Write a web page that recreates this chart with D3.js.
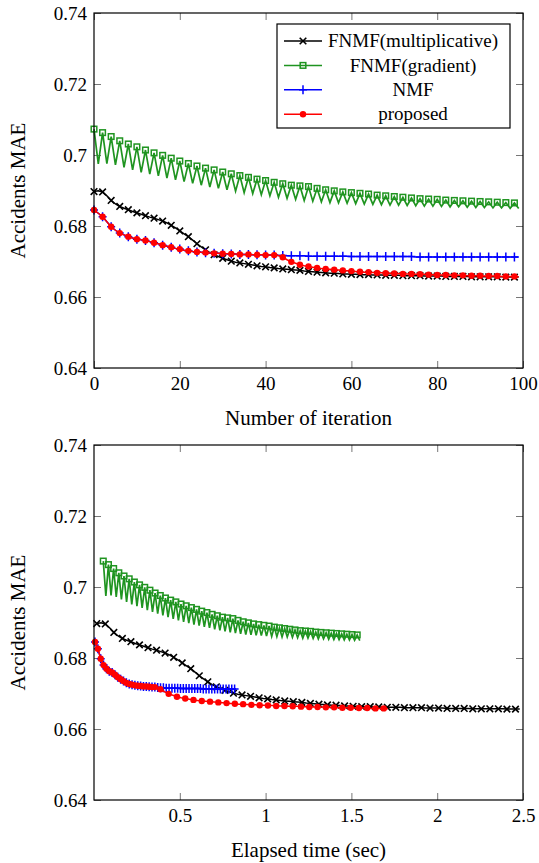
<!DOCTYPE html>
<html>
<head>
<meta charset="utf-8">
<script src="https://cdn.jsdelivr.net/npm/d3@7"></script>
<style>
  body { margin: 0; background: #fff; }
  text { font-family: "Liberation Serif", "Times New Roman", serif; fill: #000; }
</style>
</head>
<body>
<svg id="chart" width="539" height="863"></svg>
<script>
// ---- data ----
var iterations = d3.range(100); // iteration number 0..99

var multMAE = [
  0.6897, 0.6899, 0.6896, 0.6885, 0.6872, 0.6862, 0.6855, 0.6850, 0.6846, 0.6841,
  0.6837, 0.6833, 0.6829, 0.6825, 0.6822, 0.6818, 0.6814, 0.6809, 0.6802, 0.6795,
  0.6786, 0.6778, 0.6770, 0.6760, 0.6750, 0.6741, 0.6733, 0.6725, 0.6719, 0.6714,
  0.6709, 0.6705, 0.6701, 0.6698, 0.6696, 0.6694, 0.6692, 0.6690, 0.6688, 0.6686,
  0.6685, 0.6683, 0.6682, 0.6680, 0.6679, 0.6678, 0.6677, 0.6676, 0.6675, 0.6673,
  0.6672, 0.6671, 0.6670, 0.6669, 0.6668, 0.6667, 0.6667, 0.6666, 0.6665, 0.6665,
  0.6664, 0.6664, 0.6663, 0.6663, 0.6663, 0.6662, 0.6662, 0.6662, 0.6661, 0.6661,
  0.6661, 0.6661, 0.6660, 0.6660, 0.6660, 0.6660, 0.6660, 0.6659, 0.6659, 0.6659,
  0.6659, 0.6659, 0.6658, 0.6658, 0.6658, 0.6658, 0.6658, 0.6658, 0.6657, 0.6657,
  0.6657, 0.6657, 0.6657, 0.6657, 0.6657, 0.6657, 0.6656, 0.6656, 0.6656, 0.6656
];

// FNMF(gradient) zig-zags: even iterations are the peaks, odd ones the troughs
var gradPeaks = [
  0.7073, 0.7063, 0.7052, 0.7040, 0.7031, 0.7023, 0.7014, 0.7006, 0.6999, 0.6991,
  0.6983, 0.6976, 0.6969, 0.6963, 0.6958, 0.6952, 0.6947, 0.6942, 0.6937, 0.6932,
  0.6928, 0.6923, 0.6919, 0.6915, 0.6913, 0.6911, 0.6906, 0.6902, 0.6899, 0.6896,
  0.6894, 0.6892, 0.6890, 0.6887, 0.6885, 0.6883, 0.6881, 0.6879, 0.6877, 0.6876,
  0.6875, 0.6873, 0.6872, 0.6871, 0.6870, 0.6869, 0.6868, 0.6867, 0.6866, 0.6865
];
var gradTroughs = [
  0.6975, 0.6976, 0.6972, 0.6965, 0.6958, 0.6951, 0.6946, 0.6941, 0.6935, 0.6930,
  0.6925, 0.6920, 0.6915, 0.6910, 0.6906, 0.6902, 0.6898, 0.6894, 0.6891, 0.6888,
  0.6885, 0.6881, 0.6878, 0.6875, 0.6872, 0.6870, 0.6868, 0.6866, 0.6865, 0.6864,
  0.6863, 0.6862, 0.6861, 0.6860, 0.6859, 0.6859, 0.6858, 0.6857, 0.6856, 0.6856,
  0.6855, 0.6854, 0.6854, 0.6853, 0.6852, 0.6852, 0.6851, 0.6851, 0.6850, 0.6849
];

var nmfMAE = [
  0.6845, 0.6836, 0.6826, 0.6812, 0.6798, 0.6788, 0.6780, 0.6775, 0.6770, 0.6766,
  0.6763, 0.6761, 0.6759, 0.6756, 0.6753, 0.6750, 0.6746, 0.6743, 0.6740, 0.6737,
  0.6735, 0.6732, 0.6730, 0.6728, 0.6727, 0.6726, 0.6725, 0.6724, 0.6723, 0.6723,
  0.6722, 0.6722, 0.6721, 0.6721, 0.6720, 0.6720, 0.6720, 0.6719, 0.6719, 0.6719,
  0.6718, 0.6718, 0.6718, 0.6717, 0.6717, 0.6716, 0.6716, 0.6716, 0.6716, 0.6716,
  0.6715, 0.6715, 0.6715, 0.6715, 0.6715, 0.6715, 0.6715, 0.6715, 0.6715, 0.6715,
  0.6714, 0.6714, 0.6714, 0.6714, 0.6714, 0.6714, 0.6714, 0.6714, 0.6714, 0.6714,
  0.6714, 0.6714, 0.6714, 0.6714, 0.6714, 0.6713, 0.6713, 0.6713, 0.6713, 0.6713,
  0.6713, 0.6713, 0.6713, 0.6713, 0.6713, 0.6713, 0.6713, 0.6713, 0.6713, 0.6713,
  0.6713, 0.6713, 0.6713, 0.6713, 0.6713, 0.6713, 0.6713, 0.6713, 0.6713, 0.6713
];

var proposedMAE = [
  0.6845, 0.6836, 0.6826, 0.6812, 0.6798, 0.6788, 0.6780, 0.6775, 0.6770, 0.6766,
  0.6763, 0.6761, 0.6759, 0.6756, 0.6753, 0.6750, 0.6746, 0.6743, 0.6740, 0.6737,
  0.6735, 0.6732, 0.6730, 0.6728, 0.6727, 0.6726, 0.6725, 0.6724, 0.6723, 0.6723,
  0.6722, 0.6722, 0.6721, 0.6721, 0.6720, 0.6720, 0.6720, 0.6719, 0.6719, 0.6719,
  0.6718, 0.6718, 0.6718, 0.6717, 0.6712, 0.6705, 0.6699, 0.6695, 0.6691, 0.6688,
  0.6686, 0.6684, 0.6682, 0.6680, 0.6679, 0.6678, 0.6677, 0.6676, 0.6675, 0.6674,
  0.6673, 0.6672, 0.6671, 0.6670, 0.6670, 0.6669, 0.6668, 0.6668, 0.6667, 0.6667,
  0.6666, 0.6666, 0.6665, 0.6665, 0.6665, 0.6664, 0.6664, 0.6664, 0.6663, 0.6663,
  0.6662, 0.6662, 0.6662, 0.6662, 0.6661, 0.6661, 0.6661, 0.6660, 0.6660, 0.6660,
  0.6660, 0.6659, 0.6659, 0.6659, 0.6659, 0.6658, 0.6658, 0.6658, 0.6658, 0.6657
];

// elapsed time: time of the first point, seconds per iteration
var timeStart = { mult: 0.016, grad: 0.054, nmf: 0.006 };
var secPerIter = { mult: 0.0249, grad: 0.0151, nmf: 0.0083, proposedLate: 0.0241 };
var proposedSwitch = 43; // proposed runs NMF steps up to here, then FNMF steps

var yTicks = [0.64, 0.66, 0.68, 0.70, 0.72, 0.74];
var iterTicks = [0, 20, 40, 60, 80, 100];
var timeTicks = [0.5, 1, 1.5, 2, 2.5];

// ---- build the series ----
var gradMAE = iterations.map(i => i % 2 == 0 ? gradPeaks[i / 2] : gradTroughs[(i - 1) / 2]);

function timeOf(key, i) {
  if (key == "proposed") {
    if (i <= proposedSwitch) return timeStart.nmf + i * secPerIter.nmf;
    return timeStart.nmf + proposedSwitch * secPerIter.nmf + (i - proposedSwitch) * secPerIter.proposedLate;
  }
  return timeStart[key] + i * secPerIter[key];
}

var series = [
  { key: "mult", name: "FNMF(multiplicative)", color: "#000000", mark: "times", values: multMAE },
  { key: "grad", name: "FNMF(gradient)", color: "#1f9420", mark: "square", values: gradMAE },
  { key: "nmf", name: "NMF", color: "#0000ff", mark: "plus", values: nmfMAE },
  { key: "proposed", name: "proposed", color: "#ff0000", mark: "dot", values: proposedMAE }
];

var svg = d3.select("#chart");
var left = 94, right = 523;

function drawMark(g, type, color, x, y) {
  if (type == "dot") {
    g.append("circle").attr("cx", x).attr("cy", y).attr("r", 3.2).attr("fill", color);
  } else if (type == "square") {
    g.append("rect").attr("x", x - 2.8).attr("y", y - 2.8).attr("width", 5.6).attr("height", 5.6)
      .attr("fill", "none").attr("stroke", color).attr("stroke-width", 1.5);
  } else if (type == "plus") {
    g.append("path").attr("d", `M${x - 4},${y}H${x + 4}M${x},${y - 4.5}V${y + 4.5}`)
      .attr("stroke", color).attr("stroke-width", 1.5);
  } else {
    g.append("path").attr("d", `M${x - 3.3},${y - 3.3}L${x + 3.3},${y + 3.3}M${x - 3.3},${y + 3.3}L${x + 3.3},${y - 3.3}`)
      .attr("stroke", color).attr("stroke-width", 1.6);
  }
}

function panel(top, bottom, xDomain, xTicks, xTitle, xOf) {
  var x = d3.scaleLinear().domain(xDomain).range([left, right]);
  var y = d3.scaleLinear().domain([0.64, 0.74]).range([bottom, top]);
  var g = svg.append("g");

  // inward ticks on all four sides, labels only left and bottom
  var tickStyle = a => a.selectAll(".tick line").attr("stroke", "#777").attr("stroke-width", 1);
  g.append("g").attr("transform", `translate(0,${bottom})`)
    .call(d3.axisBottom(x).tickValues(xTicks).tickSize(-7).tickPadding(0).tickFormat(d3.format("")))
    .call(a => a.select(".domain").remove()).call(tickStyle)
    .call(a => a.selectAll("text").attr("y", 22).attr("dy", null).attr("font-size", 19).attr("font-family", null));
  g.append("g").attr("transform", `translate(0,${top})`)
    .call(d3.axisTop(x).tickValues(xTicks).tickSize(-7).tickFormat(""))
    .call(a => a.select(".domain").remove()).call(tickStyle);
  g.append("g").attr("transform", `translate(${left},0)`)
    .call(d3.axisLeft(y).tickValues(yTicks).tickSize(-7).tickPadding(7).tickFormat(d3.format("")))
    .call(a => a.select(".domain").remove()).call(tickStyle)
    .call(a => a.selectAll("text").attr("font-size", 19).attr("font-family", null));
  g.append("g").attr("transform", `translate(${right},0)`)
    .call(d3.axisRight(y).tickValues(yTicks).tickSize(-7).tickFormat(""))
    .call(a => a.select(".domain").remove()).call(tickStyle);

  var plot = g.append("g");
  series.forEach(s => {
    var pts = iterations.map(i => [x(xOf(s.key, i)), y(s.values[i])]);
    plot.append("path")
      .attr("d", d3.line()(pts))
      .attr("fill", "none")
      .attr("stroke", s.color)
      .attr("stroke-width", s.key == "grad" ? 1.7 : 1.5)
      .attr("stroke-linejoin", "miter");
    var mg = plot.append("g");
    pts.forEach((p, i) => {
      if (i % 2 == 0) drawMark(mg, s.mark, s.color, p[0], p[1]);
    });
  });

  g.append("rect")
    .attr("x", left).attr("y", top)
    .attr("width", right - left).attr("height", bottom - top)
    .attr("fill", "none").attr("stroke", "#000").attr("stroke-width", 1.2);

  g.append("text")
    .attr("x", (left + right) / 2).attr("y", bottom + 57)
    .attr("text-anchor", "middle").attr("font-size", 21)
    .text(xTitle);
  g.append("text")
    .attr("transform", `translate(25,${(top + bottom) / 2}) rotate(-90)`)
    .attr("text-anchor", "middle").attr("font-size", 21)
    .text("Accidents MAE");
  return g;
}

panel(13, 368, [0, 100], iterTicks, "Number of iteration", (k, i) => i);
panel(445, 800, [0, 2.5], timeTicks, "Elapsed time (sec)", timeOf);

// legend (upper chart only)
var legend = svg.append("g");
legend.append("rect")
  .attr("x", 277).attr("y", 24).attr("width", 233).attr("height", 104)
  .attr("fill", "#fff").attr("stroke", "#000").attr("stroke-width", 1.2);
series.forEach((s, i) => {
  var ly = 41 + i * 24.4;
  legend.append("line").attr("x1", 284).attr("x2", 322).attr("y1", ly).attr("y2", ly)
    .attr("stroke", s.color).attr("stroke-width", 1.5);
  drawMark(legend, s.mark, s.color, 303, ly);
  legend.append("text")
    .attr("x", 413).attr("y", ly).attr("dy", "0.33em")
    .attr("text-anchor", "middle").attr("font-size", 19)
    .text(s.name);
});
</script>
</body>
</html>
